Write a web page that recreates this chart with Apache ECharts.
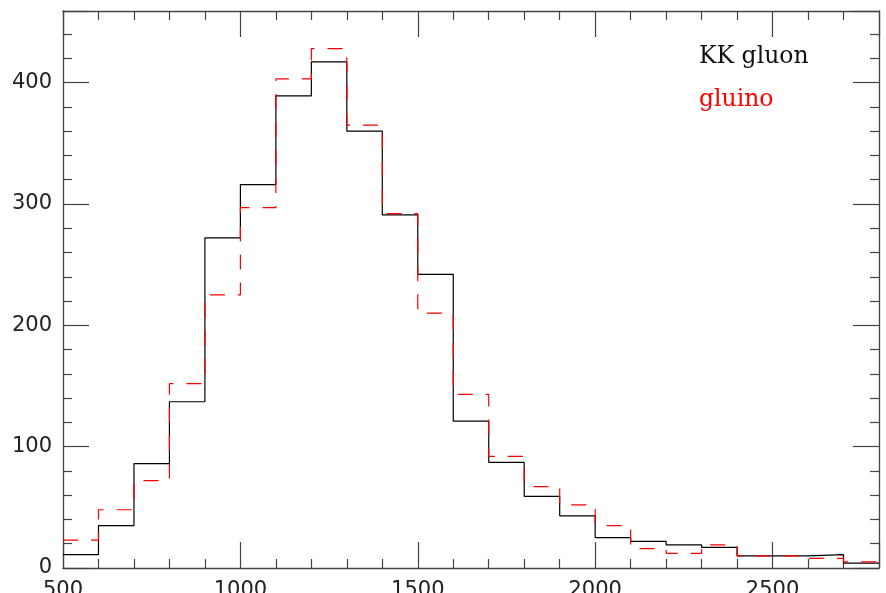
<!DOCTYPE html>
<html>
<head>
    <meta charset="utf-8">
    <title>KK gluon vs gluino</title>
    <script src="https://cdn.jsdelivr.net/npm/echarts@6/dist/echarts.min.js"></script>
    <style>
        html, body { margin: 0; padding: 0; background: #fff; }
        #chart1 { width: 886px; height: 593px; }
    </style>
</head>
<body>
<div id="chart1"></div>
<script type="text/javascript">
    // bin lower edges (bin width 100)
    var binStarts = [500, 600, 700, 800, 900, 1000, 1100, 1200, 1300, 1400, 1500, 1600,
        1700, 1800, 1900, 2000, 2100, 2200, 2300, 2400, 2500, 2600, 2700];
    var binEnd = 2800;
    var kkGluon = [11, 35, 86, 137, 272, 316, 389, 417, 360, 291, 242, 121,
        87, 59, 43, 25, 22, 19, 17, 10, 10, 11, 4];
    var gluino = [23, 48, 72, 152, 225, 297, 403, 428, 365, 292, 210, 143,
        92, 67, 52, 35, 16, 12, 19, 10, 10, 8, 5];
    var seriesNames = ['KK gluon', 'gluino'];

    // histogram as step line: point at each bin start, plus closing point
    function toSteps(vals) {
        var pts = binStarts.map(function (x, i) { return [x, vals[i]]; });
        pts.push([binEnd, vals[vals.length - 1]]);
        return pts;
    }

    var frameColor = '#444';
    var labelFont = { color: '#222', fontFamily: 'DejaVu Sans', fontSize: 21 };

    function xAxisCfg(pos, showLabel) {
        return {
            type: 'value', position: pos, min: 500, max: 2800, interval: 500,
            axisLine: { show: true, onZero: false, lineStyle: { color: frameColor, width: 1.3 } },
            axisTick: { show: true, inside: true, length: 26, lineStyle: { color: frameColor, width: 1.2 } },
            minorTick: { show: true, splitNumber: 5, length: 9, lineStyle: { color: frameColor, width: 1.2 } },
            splitLine: { show: false },
            axisLabel: Object.assign({
                show: showLabel, margin: 12, showMaxLabel: false,
                formatter: function (v) { return String(v); }
            }, labelFont)
        };
    }

    function yAxisCfg(pos, showLabel) {
        return {
            type: 'value', position: pos, min: 0, max: 459, interval: 100,
            axisLine: { show: true, onZero: false, lineStyle: { color: frameColor, width: 1.3 } },
            axisTick: { show: true, inside: true, length: 26, lineStyle: { color: frameColor, width: 1.2 } },
            minorTick: { show: true, splitNumber: 5, length: 9, lineStyle: { color: frameColor, width: 1.2 } },
            splitLine: { show: false },
            axisLabel: Object.assign({
                show: showLabel, margin: 11, showMaxLabel: false,
                formatter: function (v) { return String(v); }
            }, labelFont)
        };
    }

    var myChart1 = echarts.init(document.getElementById('chart1'));
    myChart1.setOption({
        animation: false,
        backgroundColor: '#fff',
        grid: { left: 63, right: 7, top: 11, bottom: 25, outerBoundsMode: 'none', containLabel: false },
        xAxis: [xAxisCfg('bottom', true), xAxisCfg('top', false)],
        yAxis: [yAxisCfg('left', true), yAxisCfg('right', false)],
        graphic: [
            {
                type: 'text', left: 699, top: 45,
                style: { text: seriesNames[0], fill: '#111', font: '23.5px "DejaVu Serif"' }
            },
            {
                type: 'text', left: 699, top: 88,
                style: { text: seriesNames[1], fill: '#ff0000', font: '23.5px "DejaVu Serif"' }
            }
        ],
        series: [
            {
                name: seriesNames[0],
                type: 'line',
                step: 'end',
                showSymbol: false,
                xAxisIndex: 0, yAxisIndex: 0,
                data: toSteps(kkGluon),
                lineStyle: { color: '#000', width: 1.2 },
                z: 2
            },
            {
                name: seriesNames[1],
                type: 'line',
                step: 'end',
                showSymbol: false,
                xAxisIndex: 0, yAxisIndex: 0,
                data: toSteps(gluino),
                lineStyle: { color: '#ff0000', width: 1.2, type: [15, 13] },
                z: 3
            }
        ]
    });
</script>
</body>
</html>
